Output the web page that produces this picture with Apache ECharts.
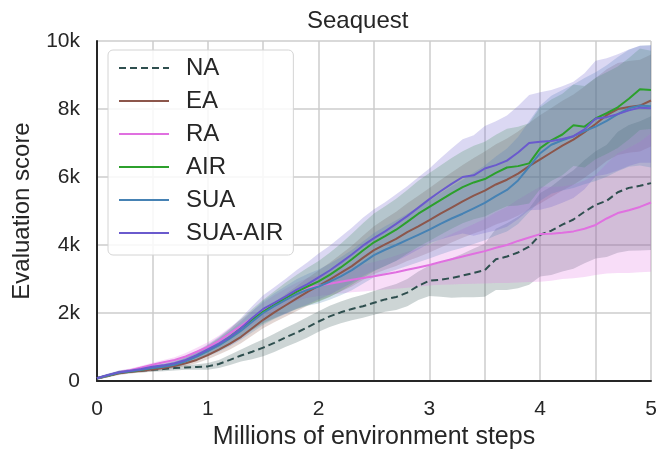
<!DOCTYPE html>
<html>
<head>
<meta charset="utf-8">
<style>
  html, body { margin: 0; padding: 0; background: #fff; }
  #chart { width: 657px; height: 450px; }
</style>
</head>
<body>
<div id="chart"></div>
<script src="https://cdn.jsdelivr.net/npm/echarts@6/dist/echarts.min.js"></script>
<script>
// x: millions of env steps, y: score in thousands
var steps = [0,0.1,0.2,0.3,0.4,0.5,0.6,0.7,0.8,0.9,1,1.1,1.2,1.3,1.4,1.5,1.6,1.7,1.8,1.9,2,2.1,2.2,2.3,2.4,2.5,2.6,2.7,2.8,2.9,3,3.1,3.2,3.3,3.4,3.5,3.6,3.7,3.8,3.9,4,4.1,4.2,4.3,4.4,4.5,4.6,4.7,4.8,4.9,5];

var naMean = [0.08,0.15,0.24,0.28,0.30,0.33,0.35,0.38,0.40,0.41,0.43,0.50,0.62,0.75,0.86,0.98,1.12,1.28,1.42,1.58,1.75,1.90,2.02,2.12,2.20,2.30,2.40,2.47,2.60,2.80,2.95,2.98,3.03,3.10,3.18,3.26,3.58,3.66,3.78,3.95,4.30,4.42,4.60,4.75,4.98,5.18,5.30,5.55,5.68,5.74,5.82];
var naLo = [0.04,0.11,0.19,0.23,0.25,0.27,0.29,0.31,0.33,0.33,0.33,0.38,0.47,0.57,0.64,0.73,0.85,1.00,1.13,1.28,1.45,1.59,1.70,1.79,1.86,1.95,2.04,2.09,2.20,2.38,2.50,2.48,2.45,2.46,2.46,2.48,2.68,2.68,2.73,2.83,3.07,3.12,3.22,3.30,3.46,3.60,3.65,3.77,3.83,3.84,3.85];
var naHi = [0.12,0.19,0.29,0.33,0.35,0.39,0.41,0.45,0.47,0.49,0.53,0.62,0.77,0.93,1.08,1.23,1.39,1.56,1.71,1.88,2.05,2.21,2.34,2.45,2.54,2.65,2.76,2.85,3.00,3.22,3.40,3.48,3.61,3.74,3.90,4.04,4.48,4.64,4.83,5.07,5.53,5.72,5.98,6.20,6.50,6.76,6.95,7.33,7.53,7.64,7.79];

var eaMean = [0.08,0.15,0.23,0.27,0.30,0.34,0.38,0.44,0.52,0.62,0.76,0.92,1.10,1.30,1.55,1.80,2.02,2.22,2.42,2.62,2.80,2.98,3.18,3.38,3.62,3.85,4.02,4.18,4.38,4.55,4.73,4.92,5.10,5.28,5.45,5.60,5.78,5.92,6.10,6.32,6.52,6.72,6.92,7.10,7.32,7.56,7.82,8.00,8.06,8.10,8.25];
var eaLo = [0.04,0.11,0.18,0.22,0.25,0.28,0.32,0.37,0.44,0.52,0.64,0.78,0.93,1.11,1.33,1.55,1.73,1.89,2.05,2.21,2.35,2.48,2.63,2.78,2.97,3.15,3.27,3.38,3.53,3.65,3.78,3.93,4.07,4.21,4.34,4.45,4.60,4.71,4.86,5.05,5.22,5.41,5.60,5.77,5.98,6.21,6.47,6.65,6.71,6.75,6.90];
var eaHi = [0.12,0.19,0.28,0.32,0.35,0.40,0.44,0.51,0.60,0.72,0.88,1.06,1.27,1.49,1.77,2.05,2.31,2.55,2.79,3.03,3.25,3.48,3.73,3.98,4.27,4.55,4.77,4.98,5.23,5.45,5.68,5.91,6.13,6.35,6.56,6.75,6.96,7.13,7.34,7.59,7.82,8.03,8.24,8.43,8.66,8.91,9.17,9.35,9.41,9.45,9.60];

var raMean = [0.08,0.16,0.26,0.32,0.40,0.48,0.55,0.62,0.72,0.86,1.00,1.18,1.40,1.62,1.85,2.08,2.28,2.45,2.62,2.74,2.80,2.86,2.92,2.98,3.03,3.08,3.14,3.20,3.27,3.34,3.41,3.50,3.58,3.66,3.74,3.82,3.92,4.00,4.12,4.22,4.32,4.33,4.36,4.40,4.48,4.59,4.78,4.94,5.02,5.12,5.25];
var raLo = [0.04,0.12,0.21,0.27,0.35,0.42,0.48,0.54,0.62,0.74,0.86,1.02,1.22,1.43,1.64,1.86,2.04,2.19,2.35,2.45,2.50,2.54,2.57,2.61,2.63,2.66,2.69,2.71,2.74,2.77,2.81,2.83,2.84,2.85,2.86,2.87,2.88,2.88,2.90,2.91,2.92,2.95,3.00,3.02,3.06,3.12,3.16,3.18,3.18,3.20,3.21];
var raHi = [0.12,0.20,0.31,0.37,0.45,0.54,0.62,0.70,0.82,0.98,1.14,1.34,1.58,1.81,2.06,2.30,2.52,2.71,2.89,3.03,3.10,3.18,3.27,3.35,3.43,3.50,3.59,3.69,3.80,3.91,4.01,4.17,4.32,4.47,4.62,4.77,4.96,5.12,5.34,5.53,5.72,5.71,5.72,5.78,5.90,6.06,6.40,6.70,6.86,7.04,7.29];

var airMean = [0.08,0.16,0.25,0.29,0.33,0.39,0.44,0.50,0.60,0.74,0.90,1.08,1.30,1.55,1.80,2.04,2.24,2.44,2.62,2.78,2.93,3.12,3.34,3.58,3.84,4.08,4.26,4.45,4.68,4.92,5.12,5.32,5.52,5.70,5.84,5.94,6.12,6.28,6.32,6.40,6.85,7.08,7.25,7.52,7.48,7.72,7.88,8.05,8.30,8.58,8.56];
var airLo = [0.04,0.12,0.20,0.24,0.28,0.33,0.37,0.42,0.50,0.62,0.75,0.89,1.07,1.28,1.49,1.69,1.84,1.99,2.12,2.23,2.33,2.47,2.64,2.83,3.04,3.23,3.38,3.54,3.74,3.95,4.12,4.30,4.48,4.64,4.76,4.84,5.00,5.14,5.16,5.22,5.65,5.88,6.05,6.32,6.28,6.52,6.68,6.85,7.10,7.38,7.41];
var airHi = [0.12,0.20,0.30,0.34,0.38,0.45,0.51,0.58,0.70,0.86,1.05,1.27,1.53,1.82,2.11,2.39,2.64,2.89,3.12,3.33,3.53,3.77,4.04,4.33,4.64,4.93,5.14,5.36,5.62,5.89,6.12,6.34,6.56,6.76,6.92,7.04,7.24,7.42,7.48,7.58,8.05,8.28,8.45,8.72,8.68,8.92,9.08,9.25,9.50,9.78,9.71];

var suaMean = [0.08,0.17,0.25,0.29,0.33,0.38,0.42,0.48,0.58,0.72,0.88,1.05,1.25,1.48,1.74,2.00,2.20,2.38,2.55,2.68,2.78,2.92,3.08,3.26,3.48,3.70,3.86,4.00,4.15,4.30,4.45,4.62,4.78,4.92,5.08,5.24,5.44,5.62,5.90,6.30,6.70,6.95,7.08,7.20,7.35,7.48,7.65,7.85,8.02,8.10,8.08];
var suaLo = [0.04,0.13,0.20,0.24,0.28,0.32,0.35,0.40,0.48,0.60,0.73,0.86,1.02,1.21,1.43,1.65,1.82,1.97,2.11,2.21,2.28,2.39,2.52,2.67,2.86,3.05,3.17,3.27,3.38,3.49,3.60,3.72,3.83,3.92,4.03,4.14,4.28,4.40,4.62,4.96,5.30,5.51,5.60,5.68,5.79,5.88,6.01,6.17,6.30,6.34,6.28];
var suaHi = [0.12,0.21,0.30,0.34,0.38,0.44,0.49,0.56,0.68,0.84,1.03,1.24,1.48,1.75,2.05,2.35,2.58,2.79,2.99,3.15,3.28,3.45,3.64,3.85,4.10,4.35,4.55,4.73,4.92,5.11,5.30,5.52,5.73,5.92,6.13,6.34,6.60,6.84,7.18,7.64,8.10,8.39,8.56,8.72,8.91,9.08,9.29,9.53,9.74,9.86,9.88];

var suaAirMean = [0.08,0.18,0.26,0.30,0.35,0.42,0.46,0.52,0.62,0.76,0.93,1.10,1.30,1.55,1.85,2.12,2.30,2.48,2.68,2.85,3.05,3.25,3.48,3.72,3.98,4.20,4.40,4.62,4.85,5.10,5.35,5.58,5.80,6.00,6.05,6.25,6.35,6.48,6.72,7.00,7.04,7.06,7.12,7.20,7.40,7.72,7.76,7.85,7.96,8.04,8.02];
var suaAirLo = [0.04,0.14,0.21,0.25,0.30,0.36,0.39,0.44,0.52,0.64,0.78,0.90,1.05,1.25,1.50,1.72,1.85,1.98,2.13,2.25,2.40,2.54,2.71,2.89,3.09,3.25,3.38,3.53,3.69,3.87,4.05,4.16,4.26,4.34,4.27,4.35,4.43,4.54,4.76,5.02,5.04,5.12,5.24,5.38,5.64,6.02,6.08,6.19,6.32,6.42,6.42];
var suaAirHi = [0.12,0.22,0.31,0.35,0.40,0.48,0.53,0.60,0.72,0.88,1.08,1.30,1.55,1.85,2.20,2.52,2.76,3.00,3.26,3.49,3.75,3.98,4.24,4.51,4.80,5.05,5.26,5.49,5.73,5.99,6.25,6.55,6.84,7.11,7.23,7.50,7.64,7.81,8.09,8.41,8.49,8.56,8.67,8.80,9.05,9.42,9.49,9.61,9.75,9.86,9.87];

var seriesNames = ['NA', 'EA', 'RA', 'AIR', 'SUA', 'SUA-AIR'];
var seriesColors = ['#2f4f4f', '#8c564b', '#e070e0', '#2ca02c', '#4682b4', '#6a5acd'];
var means = [naMean, eaMean, raMean, airMean, suaMean, suaAirMean];
var lows = [naLo, eaLo, raLo, airLo, suaLo, suaAirLo];
var highs = [naHi, eaHi, raHi, airHi, suaHi, suaAirHi];

var txt = '#262626';
var font = 'Liberation Sans';

function pairs(ys) {
    return steps.map(function (x, i) { return [x, ys[i]]; });
}

function band(name, lo, hi, color) {
    return {
        type: 'custom',
        name: name + ' band',
        silent: true,
        z: 1,
        data: [0],
        renderItem: function (params, api) {
            var pts = [];
            for (var i = 0; i < steps.length; i++) pts.push(api.coord([steps[i], hi[i]]));
            for (var j = steps.length - 1; j >= 0; j--) pts.push(api.coord([steps[j], lo[j]]));
            return {
                type: 'polygon',
                shape: { points: pts },
                style: { fill: color, opacity: 0.24 }
            };
        }
    };
}

var series = [];
for (var k = 0; k < seriesNames.length; k++) {
    series.push(band(seriesNames[k], lows[k], highs[k], seriesColors[k]));
}
for (var k2 = 0; k2 < seriesNames.length; k2++) {
    series.push({
        type: 'line',
        name: seriesNames[k2],
        data: pairs(means[k2]),
        showSymbol: false,
        symbol: 'none',
        z: 3,
        color: seriesColors[k2],
        lineStyle: { width: 2, type: k2 === 0 ? [7, 4] : 'solid', color: seriesColors[k2] }
    });
}

var chart = echarts.init(document.getElementById('chart'));
chart.setOption({
    animation: false,
    textStyle: { fontFamily: font, color: txt },
    title: {
        text: 'Seaquest',
        left: 302,
        top: 4,
        textStyle: { fontSize: 24, fontWeight: 'normal', color: txt, fontFamily: font }
    },
    legend: {
        orient: 'vertical',
        left: 108,
        top: 50,
        data: seriesNames,
        itemWidth: 50,
        itemHeight: 14,
        itemGap: 9,
        padding: [6, 10, 10, 10],
        backgroundColor: 'rgba(255,255,255,0.85)',
        borderColor: '#d4d4d4',
        borderWidth: 1,
        borderRadius: 5,
        itemStyle: { opacity: 0, borderWidth: 0 },
        textStyle: { fontSize: 24, color: txt, fontFamily: font, padding: [0, 0, 0, 12] }
    },
    grid: { left: 97, right: 6, top: 41, bottom: 69, containLabel: false, outerBoundsMode: 'none' },
    xAxis: {
        type: 'value',
        min: 0,
        max: 5,
        interval: 0.5,
        name: 'Millions of environment steps',
        nameLocation: 'middle',
        nameGap: 44,
        nameTextStyle: { fontSize: 25, color: txt, fontFamily: font },
        axisLine: { lineStyle: { color: '#262626', width: 2 } },
        axisTick: { show: false },
        axisLabel: {
            fontSize: 21, color: txt, margin: 18, fontFamily: font,
            formatter: function (v) { return v % 1 === 0 ? String(v) : ''; }
        },
        splitLine: { show: true, lineStyle: { color: '#cccccc', width: 1.5 } }
    },
    yAxis: {
        type: 'value',
        min: 0,
        max: 10,
        interval: 2,
        name: 'Evaluation score',
        nameLocation: 'middle',
        nameGap: 63,
        nameTextStyle: { fontSize: 24, color: txt, fontFamily: font },
        axisLine: { show: true, lineStyle: { color: '#262626', width: 2 } },
        axisTick: { show: false },
        axisLabel: {
            fontSize: 21, color: txt, margin: 17, fontFamily: font,
            formatter: function (v) { return v === 0 ? '0' : v + 'k'; }
        },
        splitLine: { show: true, lineStyle: { color: '#cccccc', width: 1.5 } }
    },
    series: series
});
</script>
</body>
</html>
